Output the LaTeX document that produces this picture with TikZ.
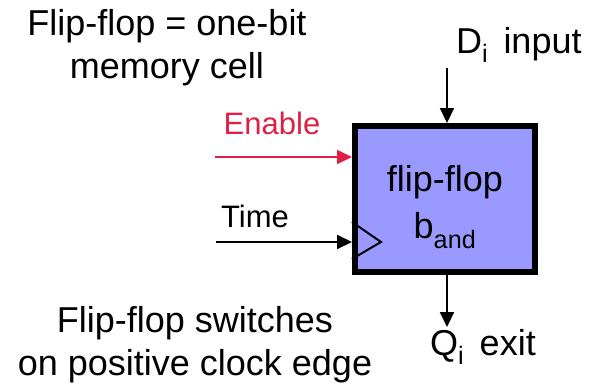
\documentclass[tikz,border=0pt]{standalone}
\usepackage{fontspec}
\setmainfont{Liberation Sans}
\usetikzlibrary{arrows.meta}
\definecolor{ffblue}{RGB}{153,153,255}
\definecolor{enred}{RGB}{222,32,68}

\begin{document}
\begin{tikzpicture}[x=1pt,y=-1pt,
  every node/.style={font=\fontsize{36}{43}\selectfont,inner sep=0pt,align=center},
  small/.style={font=\fontsize{31}{36}\selectfont},
  every path/.style={line width=2pt},
  sig/.style={-{Triangle[length=15pt,width=14pt]}}]
\useasboundingbox (0,0) rectangle (597,386);
\node (n0) at (167,48) {Flip-flop = one-bit\\memory cell};
\node (n1) at (195,345) {Flip-flop switches\\on positive clock edge};
\node[draw,line width=6pt,fill=ffblue,minimum width=180pt,minimum height=146pt] (n2) at (445,199) {};
\node[font=\fontsize{36}{47}\selectfont] (n7) at (445,207) {flip-flop\\b\textsubscript{and}};
\node[small,text=enred] (n3) at (272,123) {Enable};
\node[small] (n4) at (255,216) {Time};
\node[anchor=west] (n5) at (455,45) {D\textsubscript{i}\hspace{0.15em} input};
\node (n6) at (483,347) {Q\textsubscript{i}\hspace{0.15em} exit};
\coordinate (c0) at (215,157);
\coordinate (c1) at (216,242);
\coordinate (c2) at (447,68);
\coordinate (c3) at (447,327);
\draw[sig,enred] (c0) -- (c0 -| n2.west);
\draw[sig] (c1) -- (c1 -| n2.west);
\draw[sig] (c2) -- (c2 |- n2.north);
\draw[sig] (c3 |- n2.south) -- (c3);
\draw (n2.west |- 0,222) -- (381,242) -- (n2.west |- 0,259);
\end{tikzpicture}
\end{document}
